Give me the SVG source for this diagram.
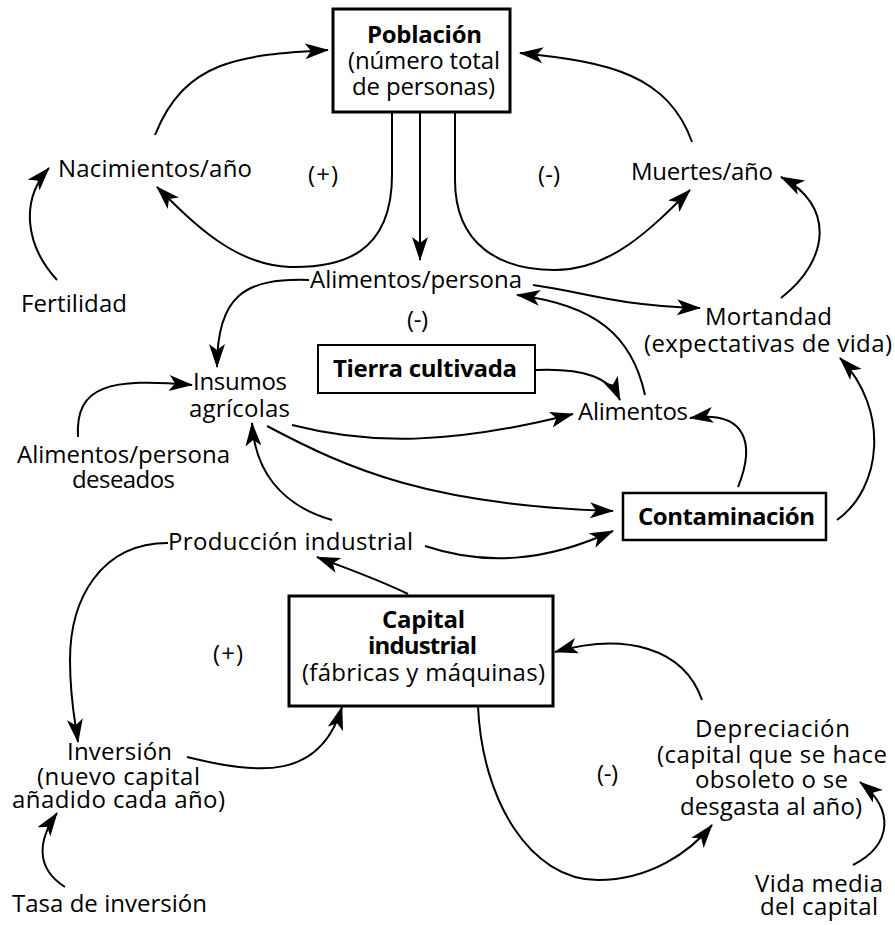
<svg xmlns="http://www.w3.org/2000/svg" width="895" height="925" viewBox="0 0 895 925">
<style>
text{font-family:"Open Sans","Liberation Sans",sans-serif;font-size:24px;fill:#000}
.b{font-weight:bold}
.box{fill:#fff;stroke:#000}
.c{fill:none;stroke:#000;stroke-width:2;marker-end:url(#ah)}
</style>
<defs>
<marker id="ah" markerUnits="userSpaceOnUse" markerWidth="26" markerHeight="18" refX="23" refY="8" orient="auto">
<path d="M0,0 L24,8 L0,16 L6,8 z" fill="#000"/>
</marker>
</defs>
<rect width="895" height="925" fill="#fff"/>
<g id="connectors">
<path class="c" d="M155,135 C185,60 240,55 328,50"/>
<path class="c" d="M392,113 L392,175 C392,255 340,268 290,267 C235,265 195,225 157,187"/>
<path class="c" d="M420,113 L420,260"/>
<path class="c" d="M57,280 C25,245 20,200 49,168"/>
<path class="c" d="M692,142 C668,75 610,62 520,53"/>
<path class="c" d="M455,113 L455,180 C455,245 500,270 555,270 C610,270 650,230 690,190"/>
<path class="c" d="M781,298 C830,260 835,205 781,177"/>
<path class="c" d="M309,280 C245,278 217,295 217,367"/>
<path class="c" d="M533,285 C585,292 610,305 700,308"/>
<path class="c" d="M645,395 C632,335 595,305 517,295"/>
<path class="c" d="M536,370 C585,368 610,378 620,400"/>
<path class="c" d="M292,425 C370,445 450,445 573,414"/>
<path class="c" d="M738,487 C755,445 748,410 690,418"/>
<path class="c" d="M837,520 C882,488 890,410 840,358"/>
<path class="c" d="M267,426 C350,470 430,505 613,511"/>
<path class="c" d="M425,546 C485,566 545,562 613,531"/>
<path class="c" d="M332,520 C280,505 255,470 252,423"/>
<path class="c" d="M408,594 C375,578 345,568 317,557"/>
<path class="c" d="M78,437 C75,385 110,378 192,385"/>
<path class="c" d="M168,543 C100,543 70,600 70,660 C70,700 75,720 78,742"/>
<path class="c" d="M187,757 C260,775 320,780 342,707"/>
<path class="c" d="M65,887 C35,868 38,840 57,813"/>
<path class="c" d="M702,700 C684,648 625,632 555,652"/>
<path class="c" d="M478,706 C482,800 530,880 598,880 C650,880 690,852 712,825"/>
<path class="c" d="M853,865 C892,845 895,810 860,782"/>
</g>
<g id="poblacion">
<rect class="box" x="333" y="9" width="177" height="103" stroke-width="3"/>
<text class="b" x="367" y="43" textLength="115">Población</text>
<text x="348" y="69" textLength="152">(número total</text>
<text x="352" y="95" textLength="143">de personas)</text>
</g>
<g id="nacimientos"><text x="58" y="177" textLength="194">Nacimientos/año</text></g>
<g id="muertes"><text x="631" y="180" textLength="142">Muertes/año</text></g>
<g id="fertilidad"><text x="21" y="312" textLength="106">Fertilidad</text></g>
<g id="alimentos-persona"><text x="310" y="288" textLength="212">Alimentos/persona</text></g>
<g id="mortandad">
<text x="705" y="325" textLength="127">Mortandad</text>
<text x="644" y="352" textLength="248">(expectativas de vida)</text>
</g>
<g id="tierra">
<rect class="box" x="318" y="345" width="217" height="48" stroke-width="2"/>
<text class="b" x="333" y="377" textLength="184">Tierra cultivada</text>
</g>
<g id="insumos">
<text x="193" y="390" textLength="94">Insumos</text>
<text x="189" y="417" textLength="101">agrícolas</text>
</g>
<g id="alimentos"><text x="578" y="420" textLength="110">Alimentos</text></g>
<g id="deseados">
<text x="17" y="463" textLength="213">Alimentos/persona</text>
<text x="72" y="488" textLength="103">deseados</text>
</g>
<g id="contaminacion">
<rect class="box" x="623" y="493" width="203" height="47" stroke-width="2.5"/>
<text class="b" x="638" y="525" textLength="177">Contaminación</text>
</g>
<g id="produccion"><text x="168" y="550" textLength="245">Producción industrial</text></g>
<g id="capital">
<rect class="box" x="289" y="596" width="264" height="110" stroke-width="3"/>
<text class="b" x="382" y="628" textLength="83">Capital</text>
<text class="b" x="368" y="654" textLength="109">industrial</text>
<text x="302" y="681" textLength="243">(fábricas y máquinas)</text>
</g>
<g id="inversion">
<text x="67" y="760" textLength="105">Inversión</text>
<text x="37" y="785" textLength="163">(nuevo capital</text>
<text x="12" y="808" textLength="213">añadido cada año)</text>
</g>
<g id="tasa"><text x="12" y="912" textLength="195">Tasa de inversión</text></g>
<g id="depreciacion">
<text x="695" y="737" textLength="155">Depreciación</text>
<text x="657" y="763" textLength="230">(capital que se hace</text>
<text x="695" y="788" textLength="153">obsoleto o se</text>
<text x="680" y="815" textLength="182">desgasta al año)</text>
</g>
<g id="vida">
<text x="755" y="892" textLength="128">Vida media</text>
<text x="760" y="915" textLength="118">del capital</text>
</g>
<g id="signos">
<text x="308" y="183" textLength="30">(+)</text>
<text x="538" y="183" textLength="22">(-)</text>
<text x="407" y="328" textLength="21">(-)</text>
<text x="213" y="662" textLength="30">(+)</text>
<text x="597" y="782" textLength="21">(-)</text>
</g>
</svg>
